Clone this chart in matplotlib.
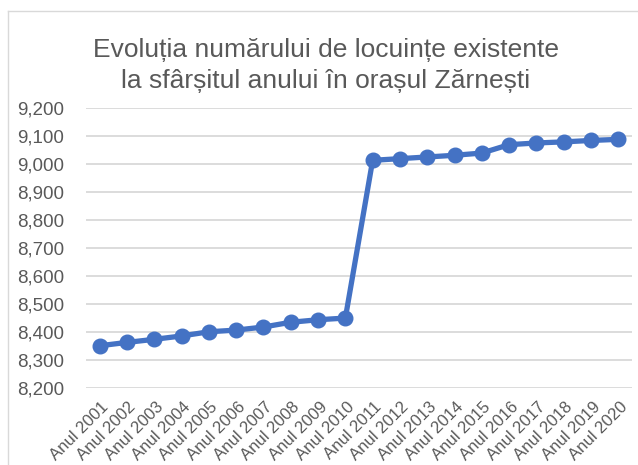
import matplotlib
matplotlib.use('Agg')
import matplotlib.pyplot as plt
from matplotlib.ticker import StrMethodFormatter, MultipleLocator
from matplotlib.transforms import ScaledTranslation
from matplotlib.lines import Line2D

# Data
years = [f"Anul {y}" for y in range(2001, 2021)]
locuinte = [8350, 8362, 8373, 8385, 8400, 8406, 8417, 8434, 8443, 8449,
            9013, 9019, 9025, 9031, 9039, 9069, 9075, 9079, 9084, 9088]
title_lines = ["Evoluția numărului de locuințe existente",
               "la sfârșitul anului în orașul Zărnești"]

grey_text = '#595959'
grid_col = '#d9d9d9'
blue = '#4472C4'

plt.rcParams['font.family'] = ['Liberation Sans', 'DejaVu Sans']

fig = plt.figure(figsize=(6.38, 4.65), dpi=100)
ax = fig.add_axes([0.1348, 0.1662, 0.8558, 0.6015])

x = list(range(len(years)))
ax.plot(x, locuinte, color=blue, linewidth=3.8, marker='o',
        markersize=10.5, solid_joinstyle='round', zorder=3)

ax.set_xlim(-0.5, len(years) - 0.5)
ax.set_ylim(8200, 9200)
ax.yaxis.set_major_locator(MultipleLocator(100))
ax.yaxis.set_major_formatter(StrMethodFormatter('{x:,.0f}'))
ax.grid(axis='y', color=grid_col, linewidth=1.3)
ax.set_axisbelow(True)
for s in ax.spines.values():
    s.set_visible(False)

ax.tick_params(axis='y', length=0, pad=16, labelsize=13.5, labelcolor=grey_text)
ax.tick_params(axis='x', length=0, pad=0, labelsize=12, labelcolor=grey_text)
ax.set_xticks(x)
ax.set_xticklabels(years, rotation=45, ha='right', va='center',
                   rotation_mode='anchor')
offset = ScaledTranslation(0.066, -0.17, fig.dpi_scale_trans)
for lbl in ax.get_xticklabels():
    lbl.set_transform(lbl.get_transform() + offset)

# title (two lines)
fig.text(0.511, 1 - 57 / 465, title_lines[0], ha='center', va='baseline',
         fontsize=19, color=grey_text)
fig.text(0.511, 1 - 88 / 465, title_lines[1], ha='center', va='baseline',
         fontsize=19, color=grey_text)

# chart frame (only left and top edges are visible in the crop)
fig.add_artist(Line2D([8 / 638, 8 / 638], [0, 1 - 11 / 465],
                      transform=fig.transFigure, color=grid_col, linewidth=1))
fig.add_artist(Line2D([8 / 638, 1], [1 - 11 / 465, 1 - 11 / 465],
                      transform=fig.transFigure, color=grid_col, linewidth=1))

fig.savefig('out.png', dpi=100)
